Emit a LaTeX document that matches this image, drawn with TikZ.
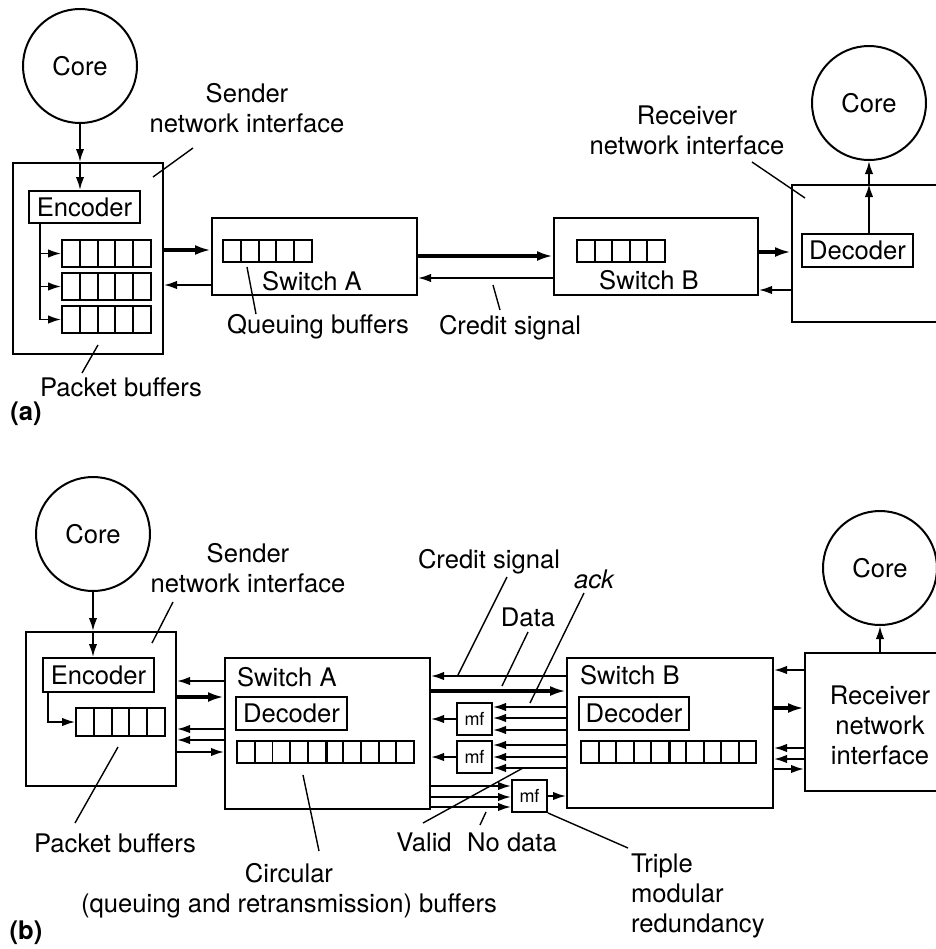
\documentclass[tikz,border=0pt]{standalone}
\usepackage{fontspec}
\setmainfont{TeX Gyre Heros}
\usetikzlibrary{arrows.meta,fit}
\begin{document}
\begin{tikzpicture}[x=.5pt, y=-.5pt, font=\fontsize{12.8}{15}\selectfont,
		blk/.style={draw, line width=1pt, inner sep=0pt},
		core/.style={blk, circle, minimum size=57pt},
		cell/.style={draw, line width=.9pt, inner sep=0pt, minimum width=8.85pt, minimum height=#1},
		arr/.style={line width=.9pt, -{Latex[length=6.5pt, width=4.2pt]}},
		fat/.style={line width=2.2pt, -{Latex[length=8pt, width=5pt]}},
		lead/.style={line width=.7pt},
		txt/.style={label=center:#1},
		mf/.style={blk, label={[font=\fontsize{9}{10}\selectfont]center:mf}}]
	\useasboundingbox (0,0) rectangle (936,949);
	% (a)
	\node[core] (coreA) at (80,66) {Core};
	\node[blk, fit={(13,163) (163,354)}] (sniA) {};
	\node[blk, fit={(29,191) (140,223)}, txt=Encoder] (encA) {};
	\foreach \r/\y in {1/253.5, 2/286.5, 3/319.5}
		\node foreach \k in {0,...,4} [cell=13.5pt] (pa\r-\k) at ({70.9+17.8*\k}, \y) {};
	\node[blk, fit={(212,218) (417,295)}] (swA) {};
	\node foreach \k in {0,...,4} [cell=11pt] (qa-\k) at ({231.9+17.8*\k}, 251) {};
	\node (swAt) at (312,281) {Switch A};
	\node[blk, fit={(554,218) (758,295)}] (swB) {};
	\node foreach \k in {0,...,4} [cell=11pt] (qb-\k) at ({585.8+17.6*\k}, 251) {};
	\node (swBt) at (649,280) {Switch B};
	\node[blk, fit={(792,185) (950,322)}] (rniA) {};
	\node[blk, fit={(802,234) (913,267)}, txt=Decoder] (decA) {};
	\node[core] (coreA2) at (869,103) {Core};

	\draw[arr] (coreA) -- (coreA |- sniA.north);
	\draw[arr] (coreA |- sniA.north) -- (coreA |- encA.north);
	\foreach \r in {1,2,3} \draw[arr] (encA.south -| 40,0) |- (pa\r-0.west);
	\draw[fat] (sniA.east |- 0,250) -- (swA.west |- 0,250);
	\draw[arr] (swA.west |- 0,285) -- (sniA.east |- 0,285);
	\draw[fat] (swA.east |- 0,256) -- (swB.west |- 0,256);
	\draw[arr] (swB.west |- 0,278) -- (swA.east |- 0,278);
	\draw[fat] (swB.east |- 0,252) -- (rniA.west |- 0,252);
	\draw[arr] (rniA.west |- 0,290) -- (swB.east |- 0,290);
	\draw[arr] (coreA2 |- decA.north) -- (coreA2 |- rniA.north);
	\draw[arr] (coreA2 |- rniA.north) -- (coreA2);

	\node[align=center] (sndA) at (247,108) {Sender\\network interface};
	\node (qbufA) at (318,327) {Queuing buffers};
	\node (crdA) at (510,328) {Credit signal};
	\node (pbufA) at (121,387) {Packet buffers};
	\node[align=center] (rcvA) at (687,130) {Receiver\\network interface};
	\node (tagA) at (26,414) {\bfseries (a)};

	% (b)
	\node[core] (coreB) at (93,534) {Core};
	\node[blk, fit={(26,632) (176,786)}] (sniB) {};
	\node[blk, fit={(43,658) (154,692)}, txt=Encoder] (encB) {};
	\node foreach \k in {0,...,4} [cell=14pt] (pb-\k) at ({84.9+17.8*\k}, 722) {};
	\node[blk, fit={(225,658) (430,809)}] (swA2) {};
	\node[anchor=west] (swA2t) at (230,677) {Switch A};
	\node[blk, fit={(236,697) (347,730)}, txt=Decoder] (decSA) {};
	\node foreach \k in {0,...,9} [cell=11pt] (ca-\k) at ({245.85+17.7*\k}, 752) {};
	\draw[line width=1.8pt] (ca-4.north east) -- (ca-4.south east);
	\node[blk, fit={(567,658) (773,808)}] (swB2) {};
	\node[anchor=west] (swB2t) at (573,675) {Switch B};
	\node[blk, fit={(579,697) (689,730)}, txt=Decoder] (decSB) {};
	\node foreach \k in {0,...,9} [cell=11pt] (cb-\k) at ({589.75+17.5*\k}, 752) {};
	\draw[line width=1.8pt] (cb-4.north east) -- (cb-4.south east);
	\node[blk, fit={(805,653) (950,791)}] (rniB) {};
	\node[align=center] (rniBt) at (880,725) {Receiver\\network\\interface};
	\node[core] (coreB2) at (880,568) {Core};
	\node[mf, fit={(457,703) (492,735)}] (mf1) {};
	\node[mf, fit={(457,741) (492,773)}] (mf2) {};
	\node[mf, fit={(512,780) (547,812)}] (mf3) {};

	\draw[arr] (coreB) -- (coreB |- sniB.north);
	\draw[arr] (coreB |- sniB.north) -- (coreB |- encB.north);
	\draw[arr] (encB.south -| 48,0) |- (pb-0.west);
	\draw[fat] (sniB.east |- 0,697) -- (swA2.west |- 0,697);
	\foreach \y in {681,729,740} \draw[arr] (swA2.west |- 0,\y) -- (sniB.east |- 0,\y);
	\draw[arr] (sniB.east |- 0,752) -- (swA2.west |- 0,752);
	\draw[fat] (swA2.east |- 0,691) -- (swB2.west |- 0,691);
	\draw[arr] (swB2.west |- 0,676) -- (swA2.east |- 0,676);
	\foreach \y in {707,718,730} \draw[arr] (swB2.west |- 0,\y) -- (mf1.east |- 0,\y);
	\foreach \y in {745,757,768} \draw[arr] (swB2.west |- 0,\y) -- (mf2.east |- 0,\y);
	\foreach \y in {786,797,807} \draw[arr] (swA2.east |- 0,\y) -- (mf3.west |- 0,\y);
	\draw[arr] (mf1) -- (mf1 -| swA2.east);
	\draw[arr] (mf2) -- (mf2 -| swA2.east);
	\draw[arr] (mf3) -- (mf3 -| swB2.west);
	\draw[fat] (swB2.east |- 0,708) -- (rniB.west |- 0,708);
	\foreach \y in {670,748,759} \draw[arr] (rniB.west |- 0,\y) -- (swB2.east |- 0,\y);
	\draw[arr] (swB2.east |- 0,769) -- (rniB.west |- 0,769);
	\draw[arr] (rniB.north -| coreB2) -- (coreB2);

	\node[align=center] (sndB) at (248,568) {Sender\\network interface};
	\node (pbufB) at (115,843) {Packet buffers};
	\node[align=center] (circ) at (289,891) {Circular\\(queuing and retransmission) buffers};
	\node (crdB) at (489,562) {Credit signal};
	\node (ack) at (594,579) {\itshape ack};
	\node (data) at (528,617) {Data};
	\node (valid) at (424,842) {Valid};
	\node (nodata) at (512,842) {No data};
	\node[anchor=west, align=left] (tmr) at (624,896) {Triple\\modular\\redundancy};
	\node (tagB) at (26,933) {\bfseries (b)};

	\foreach \n/\a/\b/\c/\d in {sndA/193/148/153/177, pbufA/98/345/82/373, qbufA/247/267/256/314,
			crdA/493/285/500/310, rcvA/752/162/805/198, sndB/173/602/152/643, pbufB/118/747/75/823,
			circ/303/775/319/851, crdB/507/577/458/675, data/528/632/502/686, ack/584/593/530/703,
			valid/523/768/423/823, nodata/486/812/480/825}
		\draw[lead] (\a,\b) coordinate (\n-s) -- (\c,\d) coordinate (\n-e);
	\draw[lead] (mf3.south east) -- (628,848) coordinate (tmr-e);
\end{tikzpicture}
\end{document}
